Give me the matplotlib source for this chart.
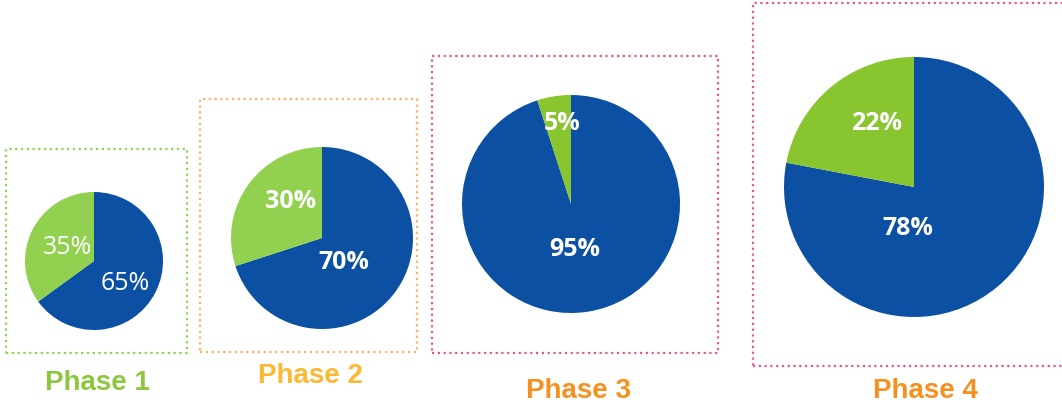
import matplotlib.pyplot as plt
from matplotlib.patches import Rectangle

# data
phases = ["Phase 1", "Phase 2", "Phase 3", "Phase 4"]
blue_pct = [65, 70, 95, 78]
green_pct = [35, 30, 5, 22]

# layout (pixels, y up)
centers = [(94, 143), (322, 166), (571, 200), (914, 217)]
radii = [69, 91, 109, 130]
boxes = [(6, 51, 181, 204), (200, 52, 217, 253), (432, 51, 286, 297), (753, 38, 330, 363)]
box_colors = ["#92d050", "#f9b36a", "#e2588c", "#e2588c"]
title_pos = [(97, 14), (311, 21), (578, 6), (925, 6)]
title_colors = ["#8dc63f", "#fbb830", "#f7901e", "#f7901e"]
green_colors = ["#92d050", "#92d050", "#89c52e", "#89c52e"]
blue = "#0b50a3"
# label offsets relative to pie center, in radius units: (blue, green)
label_off = [((0.46, -0.32), (-0.38, 0.19)),
             ((0.24, -0.27), (-0.35, 0.40)),
             ((0.03, -0.42), (-0.08, 0.74)),
             ((-0.05, -0.32), (-0.29, 0.49))]
label_weight = ["normal", "bold", "bold", "bold"]

fig = plt.figure(figsize=(10.62, 4.04), dpi=100)
ax = fig.add_axes([0, 0, 1, 1])

for i in range(4):
    cx, cy = centers[i]
    r = radii[i]
    ax.pie([blue_pct[i], green_pct[i]], colors=[blue, green_colors[i]],
           center=(cx, cy), radius=r, startangle=90, counterclock=False,
           wedgeprops=dict(linewidth=0))
    vals = [blue_pct[i], green_pct[i]]
    for (dx, dy), v in zip(label_off[i], vals):
        ax.text(cx + dx * r, cy + dy * r, f"{v}%", color="white",
                fontsize=18, fontfamily="Open Sans", fontweight=label_weight[i],
                ha="center", va="center")
    bx, by, bw, bh = boxes[i]
    ax.add_patch(Rectangle((bx, by), bw, bh, fill=False, edgecolor=box_colors[i],
                           linewidth=1.6, linestyle=(0, (1, 1.6))))
    tx, ty = title_pos[i]
    ax.text(tx, ty, phases[i], color=title_colors[i], fontsize=20,
            fontfamily="Liberation Sans", fontweight="bold",
            ha="center", va="baseline")

ax.set_xlim(0, 1062)
ax.set_ylim(0, 404)
ax.set_aspect("equal")
ax.axis("off")

fig.savefig("out.png", dpi=100)
